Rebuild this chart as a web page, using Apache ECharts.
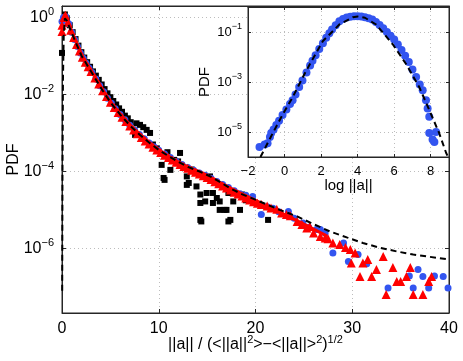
<!DOCTYPE html>
<html>
<head>
<meta charset="utf-8">
<script src="https://cdn.jsdelivr.net/npm/echarts@6/dist/echarts.min.js"></script>
<style>
  html, body { margin: 0; padding: 0; background: #fff; }
  #chart { width: 463px; height: 361px; }
</style>
</head>
<body>
<div id="chart"></div>
<script>
// all y values are log10(PDF)

// main panel: black squares
const squaresMain = [
  [0.0, -0.92], [0.3, 0.08], [0.5, -0.02], [0.8, -0.2], [1.1, -0.38], [1.4, -0.56], [1.7, -0.73],
  [2.0, -0.9], [2.3, -1.04], [2.6, -1.16], [2.9, -1.28], [3.2, -1.4], [3.5, -1.51], [3.8, -1.62],
  [4.1, -1.74], [4.4, -1.86], [4.7, -1.97], [5.0, -2.07], [5.3, -2.17], [5.6, -2.26], [5.9, -2.36],
  [6.2, -2.45], [6.5, -2.55], [6.8, -2.62], [7.1, -2.72], [7.55, -3.05], [7.7, -2.75], [8.06, -2.79],
  [8.4, -2.85], [8.75, -2.92], [9.1, -3.0], [9.4, -3.3], [9.8, -3.4], [10.3, -3.83], [10.5, -4.17],
  [10.6, -4.22], [10.9, -3.5], [11.2, -3.96], [11.6, -3.7], [12.0, -3.74], [12.2, -3.52], [12.9, -4.13],
  [12.9, -4.35], [13.1, -4.3], [13.4, -3.95], [13.9, -4.39], [14.3, -4.6], [14.3, -4.82], [14.3, -5.26],
  [14.4, -5.3], [14.8, -4.78], [14.95, -4.56], [15.3, -4.13], [15.6, -4.82], [15.6, -4.56], [16.0, -4.69],
  [16.3, -4.78], [16.3, -5.0], [16.8, -5.0], [17.0, -5.0], [17.2, -4.56], [17.2, -5.3], [17.4, -5.26],
  [17.7, -4.78], [18.4, -5.0], [18.6, -4.6], [19.0, -4.75], [21.3, -5.26]
]

// main panel: blue circles
const circlesMain = [
  [0.0, -0.1], [0.15, 0.0], [0.4, 0.02], [0.7, -0.16], [1.0, -0.38], [1.3, -0.57], [1.6, -0.75],
  [1.9, -0.92], [2.2, -1.06], [2.5, -1.19], [2.8, -1.31], [3.1, -1.43], [3.5, -1.6], [3.9, -1.77],
  [4.3, -1.93], [4.7, -2.1], [5.1, -2.23], [5.5, -2.37], [6.0, -2.52], [6.5, -2.66], [7.0, -2.8],
  [7.5, -2.92], [8.0, -3.04], [8.5, -3.15], [9.0, -3.26], [9.5, -3.36], [10.0, -3.45], [10.6, -3.55],
  [11.2, -3.64], [11.8, -3.74], [12.4, -3.82], [13.0, -3.9], [13.6, -3.97], [14.2, -4.04], [14.8, -4.1],
  [15.4, -4.18], [16.0, -4.26], [16.6, -4.34], [17.2, -4.42], [17.8, -4.5], [18.4, -4.58], [19.0, -4.62],
  [19.7, -4.65], [20.6, -5.12], [21.2, -4.92], [21.8, -4.96], [22.4, -5.05], [23.4, -5.04], [24.0, -5.22],
  [24.9, -5.34], [25.5, -5.45], [26.3, -5.51], [26.7, -5.51], [27.2, -5.6], [28.0, -6.12], [29.1, -5.86],
  [29.6, -6.34], [30.6, -6.16], [31.5, -6.4], [33.7, -7.03], [35.9, -6.72], [36.3, -7.03], [36.8, -6.55],
  [37.3, -6.73], [37.9, -7.03], [38.5, -6.72], [39.4, -6.73], [39.9, -7.03]
]

// main panel: red triangles
const trianglesMain = [
  [0.0, -0.36], [0.0, -0.2], [0.2, 0.0], [0.35, 0.06], [0.6, -0.12], [0.9, -0.33], [1.2, -0.52],
  [1.5, -0.7], [1.8, -0.87], [2.1, -1.03], [2.4, -1.16], [2.7, -1.28], [3.0, -1.4], [3.4, -1.57],
  [3.8, -1.73], [4.2, -1.9], [4.6, -2.05], [5.0, -2.2], [5.4, -2.34], [5.8, -2.47], [6.2, -2.59],
  [6.6, -2.7], [7.0, -2.82], [7.4, -2.92], [7.8, -3.02], [8.2, -3.12], [8.6, -3.21], [9.0, -3.29],
  [9.4, -3.37], [9.8, -3.44], [10.2, -3.51], [10.6, -3.58], [11.0, -3.64], [11.4, -3.7], [11.8, -3.76],
  [12.2, -3.82], [12.6, -3.87], [13.0, -3.92], [13.4, -3.97], [13.8, -4.02], [14.2, -4.07], [14.6, -4.11],
  [15.0, -4.16], [15.4, -4.21], [15.8, -4.27], [16.2, -4.32], [16.6, -4.38], [17.0, -4.43], [17.4, -4.48],
  [17.8, -4.54], [18.2, -4.59], [18.6, -4.64], [19.0, -4.69], [19.4, -4.74], [19.8, -4.79], [20.2, -4.83],
  [20.6, -4.86], [21.2, -4.9], [21.6, -4.95], [22.2, -4.98], [22.7, -5.08], [23.2, -5.12], [23.6, -5.15],
  [24.3, -5.3], [24.8, -5.38], [25.3, -5.47], [25.6, -5.43], [26.0, -5.6], [26.7, -5.69], [27.2, -5.73],
  [27.5, -5.75], [28.0, -5.86], [28.7, -5.9], [29.3, -5.98], [29.8, -6.03], [30.3, -6.12], [29.9, -6.38],
  [30.8, -6.73], [31.1, -6.38], [31.6, -6.29], [32.0, -6.73], [32.5, -6.55], [33.2, -6.21], [33.5, -7.2],
  [34.2, -6.5], [34.6, -6.86], [35.0, -6.86], [35.6, -6.73], [36.0, -6.5], [36.3, -7.2], [37.3, -7.2],
  [37.9, -6.86], [38.2, -6.73]
]

// main panel: red solid line
const redLineMain = [
  [0.2, 0.05], [0.35, 0.06], [0.6, -0.1], [1.0, -0.36], [1.34, -0.56], [1.7, -0.77], [2.03, -0.97],
  [2.5, -1.17], [3.07, -1.4], [3.5, -1.58], [4.1, -1.83], [4.96, -2.17], [6.0, -2.5], [7.0, -2.78],
  [8.0, -3.02], [9.0, -3.24], [10.0, -3.43], [11.0, -3.6], [12.0, -3.75], [13.0, -3.88], [14.3, -4.02],
  [15.5, -4.17], [17.0, -4.38], [18.5, -4.57], [20.0, -4.75], [21.2, -4.9], [23.0, -5.12], [24.6, -5.32],
  [26.0, -5.5], [27.4, -5.68]
]

// main panel: black dashed fit
const dashedMain = [
  [0.02, -7.1], [0.05, -4.0], [0.1, -1.6], [0.18, -0.45], [0.3, -0.02], [0.5, -0.08], [0.8, -0.27],
  [1.34, -0.6], [2.03, -1.0], [3.07, -1.43], [4.1, -1.86], [5.0, -2.2], [6.0, -2.52], [7.0, -2.8],
  [8.0, -3.04], [9.0, -3.25], [10.0, -3.44], [11.0, -3.6], [12.0, -3.75], [13.0, -3.88], [14.3, -4.01],
  [15.5, -4.15], [17.4, -4.44], [18.5, -4.58], [20.8, -4.82], [22.5, -5.0], [24.3, -5.17], [26.0, -5.37],
  [27.7, -5.56], [29.5, -5.72], [31.1, -5.86], [32.8, -5.98], [34.6, -6.08], [36.3, -6.16], [38.0, -6.22],
  [40.0, -6.29]
]

// inset: blue circles, x = log ||a||
const circlesInset = [
  [-1.37, -5.6], [-1.09, -5.5], [-0.93, -5.45], [-0.8, -5.2], [-0.73, -5.04], [-0.6, -4.9],
  [-0.45, -4.72], [-0.3, -4.55], [-0.11, -4.32], [0.1, -4.1], [0.3, -3.88], [0.44, -3.73], [0.6, -3.5],
  [0.8, -3.2], [0.98, -2.94], [1.2, -2.62], [1.4, -2.34], [1.53, -2.15], [1.7, -1.93], [1.9, -1.68],
  [2.1, -1.45], [2.28, -1.23], [2.45, -1.05], [2.6, -0.9], [2.8, -0.73], [3.0, -0.57], [3.2, -0.48],
  [3.4, -0.42], [3.6, -0.39], [3.8, -0.37], [4.0, -0.37], [4.2, -0.38], [4.4, -0.41], [4.6, -0.45],
  [4.8, -0.5], [5.0, -0.6], [5.2, -0.72], [5.4, -0.85], [5.6, -1.0], [5.8, -1.15], [6.0, -1.3],
  [6.2, -1.5], [6.4, -1.72], [6.6, -1.95], [6.8, -2.2], [7.0, -2.5], [7.2, -2.8], [7.4, -3.1],
  [7.56, -3.33], [7.74, -3.73], [7.83, -4.06], [7.92, -4.39], [7.92, -5.04], [8.1, -5.3], [8.2, -5.4],
  [8.29, -5.0]
]

// inset: black dashed fit
const dashedInset = [
  [-1.32, -6.0], [-1.27, -5.97], [-1.0, -5.55], [-0.64, -5.04], [-0.1, -4.3], [0.45, -3.6],
  [1.19, -2.54], [2.1, -1.36], [3.0, -0.7], [3.74, -0.41], [4.0, -0.38], [4.4, -0.43], [5.01, -0.7],
  [5.92, -1.49], [6.65, -2.28], [7.37, -3.2], [7.92, -4.12], [8.46, -5.04], [8.84, -5.83], [8.95, -6.0]
]

const mainYTicks = [-6, -4, -2, 0]
const mainXTicks = [0, 10, 20, 30, 40]
const insetYTicks = [-5, -3, -1]
const insetXTicks = [-2, 0, 2, 4, 6, 8]

const FONT = 'Liberation Sans'
const AXIS_COLOR = '#262626'
const BLUE = '#3355f0'

function pow10Label(v) {
  const e = Math.round(v)
  return '{b|10}{s|' + (e < 0 ? '\u2212' + (-e) : e) + '}'
}

function powRich(size, supSize) {
  return {
    b: { fontSize: size, fontFamily: FONT, color: '#000', lineHeight: size + 6 },
    s: { fontSize: supSize, fontFamily: FONT, color: '#000', lineHeight: supSize + 1, verticalAlign: 'top' }
  }
}

const gridLine = { show: true, lineStyle: { color: '#bdbdbd', type: [1, 3], width: 1 } }

function boxAxis(gridIndex, position, min, max, ticks, len, z) {
  return {
    type: 'value', gridIndex: gridIndex, min: min, max: max, position: position, z: z,
    axisLine: { show: true, onZero: false, lineStyle: { color: AXIS_COLOR } },
    axisTick: { inside: true, length: len, customValues: ticks, lineStyle: { color: AXIS_COLOR } },
    axisLabel: { show: false }, splitLine: { show: false }
  }
}

const chart = echarts.init(document.getElementById('chart'))

chart.setOption({
  animation: false,
  backgroundColor: '#fff',
  grid: [
    {
      left: 62, right: 14, top: 6, bottom: 48, outerBoundsMode: 'none', containLabel: false,
      show: true, borderColor: AXIS_COLOR, borderWidth: 1, backgroundColor: '#fff'
    },
    {
      left: 248, right: 14, top: 7, bottom: 204, outerBoundsMode: 'none', containLabel: false,
      show: true, borderColor: AXIS_COLOR, borderWidth: 1, backgroundColor: '#fff', z: 10
    }
  ],
  xAxis: [
    {
      type: 'value', gridIndex: 0, min: 0, max: 40,
      axisLine: { show: true, onZero: false, lineStyle: { color: AXIS_COLOR } },
      axisTick: { inside: true, length: 4, customValues: mainXTicks, lineStyle: { color: AXIS_COLOR } },
      axisLabel: { customValues: mainXTicks, fontSize: 16, fontFamily: FONT, color: '#000', margin: 8 },
      splitLine: gridLine,
      name: '{n|||a|| / (<||a||}{s|2}{n|>\u2212<||a||>}{s|2}{n|)}{s|1/2}',
      nameLocation: 'middle', nameGap: 21, nameMoveOverlap: false,
      nameTextStyle: {
        rich: {
          n: { fontSize: 16, fontFamily: FONT, color: '#000', lineHeight: 22 },
          s: { fontSize: 11, fontFamily: FONT, color: '#000', lineHeight: 12, verticalAlign: 'top' }
        }
      }
    },
    boxAxis(0, 'top', 0, 40, mainXTicks, 4, 0),
    {
      type: 'value', gridIndex: 1, min: -2, max: 9, z: 11,
      axisLine: { show: true, onZero: false, lineStyle: { color: AXIS_COLOR } },
      axisTick: { inside: true, length: 3, customValues: insetXTicks, lineStyle: { color: AXIS_COLOR } },
      axisLabel: {
        customValues: insetXTicks, fontSize: 13, fontFamily: FONT, color: '#000', margin: 8,
        formatter: v => (v < 0 ? '\u2212' + (-v) : '' + v)
      },
      splitLine: gridLine,
      name: 'log ||a||', nameLocation: 'middle', nameGap: 21, nameMoveOverlap: false,
      nameTextStyle: { fontSize: 15, fontFamily: FONT, color: '#000' }
    },
    boxAxis(1, 'top', -2, 9, insetXTicks, 3, 11)
  ],
  yAxis: [
    {
      type: 'value', gridIndex: 0, min: -7.68, max: 0.3,
      axisLine: { show: true, onZero: false, lineStyle: { color: AXIS_COLOR } },
      axisTick: { inside: true, length: 4, customValues: mainYTicks, lineStyle: { color: AXIS_COLOR } },
      axisLabel: { customValues: mainYTicks, formatter: pow10Label, rich: powRich(16, 11), margin: 8 },
      splitLine: gridLine,
      name: 'PDF', nameLocation: 'middle', nameRotate: 90, nameGap: 40, nameMoveOverlap: false,
      nameTextStyle: { fontSize: 16, fontFamily: FONT, color: '#000' }
    },
    boxAxis(0, 'right', -7.68, 0.3, mainYTicks, 4, 0),
    {
      type: 'value', gridIndex: 1, min: -6, max: 0, z: 11,
      axisLine: { show: true, onZero: false, lineStyle: { color: AXIS_COLOR } },
      axisTick: { inside: true, length: 3, customValues: insetYTicks, lineStyle: { color: AXIS_COLOR } },
      axisLabel: { customValues: insetYTicks, formatter: pow10Label, rich: powRich(13, 9), margin: 6 },
      splitLine: gridLine,
      name: 'PDF', nameLocation: 'middle', nameRotate: 90, nameGap: 36, nameMoveOverlap: false,
      nameTextStyle: { fontSize: 15, fontFamily: FONT, color: '#000' }
    },
    boxAxis(1, 'right', -6, 0, insetYTicks, 3, 11)
  ],
  series: [
    {
      type: 'scatter', xAxisIndex: 0, yAxisIndex: 0, data: squaresMain, z: 2,
      symbol: 'rect', symbolSize: 6, itemStyle: { color: '#000', opacity: 1 }, clip: false
    },
    {
      type: 'scatter', xAxisIndex: 0, yAxisIndex: 0, data: circlesMain, z: 3,
      symbol: 'circle', symbolSize: 7, itemStyle: { color: BLUE, opacity: 1 }, clip: false
    },
    {
      type: 'scatter', xAxisIndex: 0, yAxisIndex: 0, data: trianglesMain, z: 4,
      symbol: 'triangle', symbolSize: 9, itemStyle: { color: '#ff0000', opacity: 1 }, clip: false
    },
    {
      type: 'line', xAxisIndex: 0, yAxisIndex: 0, data: redLineMain, z: 5,
      showSymbol: false, smooth: 0.3, lineStyle: { color: '#ff0000', width: 3 }
    },
    {
      type: 'line', xAxisIndex: 0, yAxisIndex: 0, data: dashedMain, z: 6,
      showSymbol: false, lineStyle: { color: '#000', width: 2, type: [6, 4] }
    },
    {
      type: 'scatter', xAxisIndex: 2, yAxisIndex: 2, data: circlesInset, z: 12,
      symbol: 'circle', symbolSize: 8, itemStyle: { color: BLUE, opacity: 1 }, clip: false
    },
    {
      type: 'line', xAxisIndex: 2, yAxisIndex: 2, data: dashedInset, z: 13,
      showSymbol: false, lineStyle: { color: '#000', width: 2, type: [6, 4] }
    }
  ]
})

window.onresize = function() {
  chart.resize()
}
</script>
</body>
</html>
